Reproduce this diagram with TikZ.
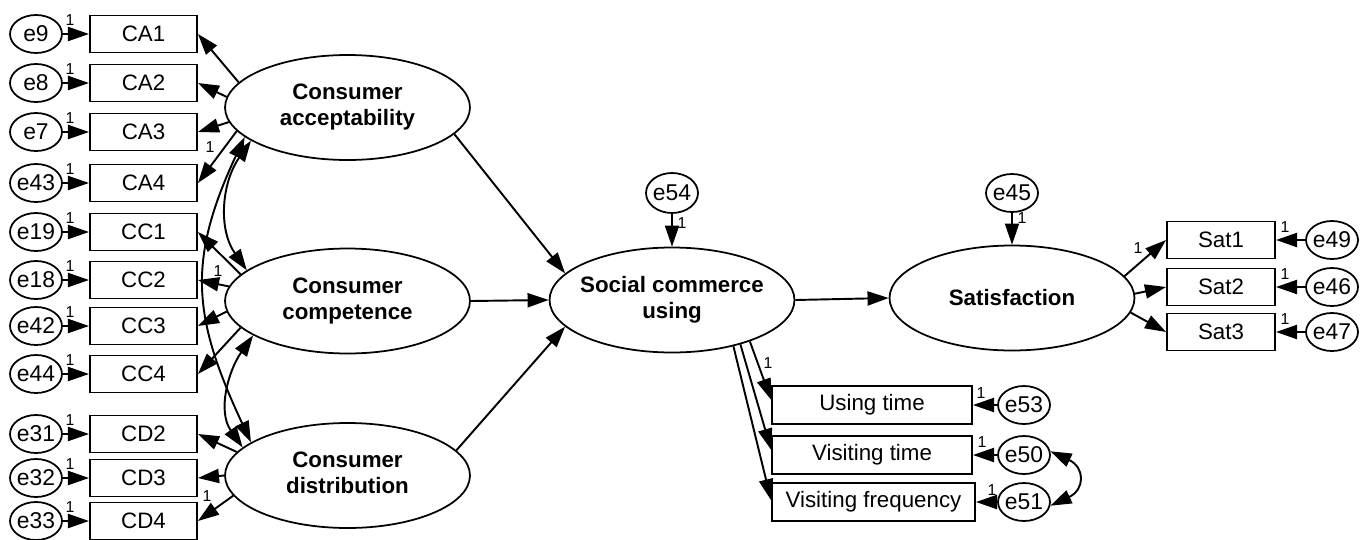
\documentclass[tikz,border=0pt]{standalone}
\usepackage{fontspec}
\setmainfont{Liberation Sans}
\usetikzlibrary{shapes.geometric, arrows.meta}
\newcommand\zb[1]{\makebox[0pt]{#1}}
\begin{document}
\begin{tikzpicture}[x=0.02cm, y=0.02cm,
  box/.style={draw, line width=1.1pt, rectangle, minimum width=2.14cm, minimum height=0.74cm, inner sep=0pt, font=\fontsize{12.7}{14}\selectfont},
  wbox/.style={box, minimum width=4cm, minimum height=0.76cm},
  err/.style={draw, line width=1pt, ellipse, minimum width=1.04cm, minimum height=0.76cm, inner sep=0pt, font=\fontsize{13}{14}\selectfont},
  lat/.style={draw, line width=1pt, ellipse, minimum width=4.9cm, minimum height=2.1cm, inner sep=0pt, font=\fontsize{12.7}{14.7}\selectfont\bfseries},
  onelab/.style={font=\fontsize{9}{10}\selectfont, inner sep=0pt},
  arr/.style={line width=1.1pt, -{Triangle[length=12pt,width=8pt]}},
  cov/.style={line width=1.1pt, {Triangle[length=12pt,width=8pt]}-{Triangle[length=12pt,width=8pt]}}
]
\useasboundingbox (0,0) rectangle (1365,539);

% latent variables
\node[lat] (ca) at (347.5,431.5) {\zb{\begin{tabular}{@{}c@{}}Consumer\\acceptability\end{tabular}}};
\node[lat] (cc) at (347.5,238) {\zb{\begin{tabular}{@{}c@{}}Consumer\\competence\end{tabular}}};
\node[lat] (cd) at (347.5,63.5) {\zb{\begin{tabular}{@{}c@{}}Consumer\\distribution\end{tabular}}};
\node[lat] (scu) at (672,239) {\zb{\begin{tabular}{@{}c@{}}Social commerce\\using\end{tabular}}};
\node[lat] (sat) at (1012,241) {\zb{Satisfaction}};

% left indicators
\foreach \b/\e/\y/\bt/\et in {ca1/e9/505/CA1/e9, ca2/e8/456/CA2/e8, ca3/e7/407/CA3/e7, ca4/e43/356/CA4/e43,
  cc1/e19/307/CC1/e19, cc2/e18/259/CC2/e18, cc3/e42/213/CC3/e42, cc4/e44/165/CC4/e44,
  cd2/e31/105/CD2/e31, cd3/e32/61/CD3/e32, cd4/e33/18/CD4/e33}{
  \node[box] (\b) at (143.5,\y) {\bt};
  \node[err] (\e) at (36,\y) {\zb{\et}};
  \node[onelab] (l\e) at (70,\y+14) {1};
  \draw[arr] (\e.east) -- (\b.west);
}

% loadings
\draw[arr] (ca.167) -- (ca1.east);
\draw[arr] (ca.175) -- (ca2.east);
\draw[arr] (ca.187) -- (ca3.east);
\draw[arr] (ca.192) -- (ca4.east);
\draw[arr] (cc.166) -- (cc1.east);
\draw[arr] (cc.173) -- (cc2.east);
\draw[arr] (cc.185) -- (cc3.east);
\draw[arr] (cc.194) -- (cc4.east);
\draw[arr] (cd.168) -- (cd2.east);
\draw[arr] (cd.180) -- (cd3.east);
\draw[arr] (cd.190) -- (cd4.east);
\node[onelab] (lca4) at (210,392) {1};
\node[onelab] (lcc2) at (218,268) {1};
\node[onelab] (lcd4) at (207,43) {1};

% covariances
\draw[cov] (ca.199) to[out=235, in=125] (cc.163);
\draw[cov] (cc.200) to[out=235, in=125] (cd.165);
\draw[cov] (ca.196) to[out=245, in=115, looseness=1.15] (cd.161);

% structural paths
\draw[arr] (ca.-14) -- (scu.166);
\draw[arr] (cc.east) -- (scu.west);
\draw[arr] (cd.13) -- (scu.194);
\draw[arr] (scu.east) -- (sat.west);

% disturbances
\node[err, minimum height=0.8cm] (e54) at (672,346) {\zb{e54}};
\node[err] (e45) at (1012,346) {\zb{e45}};
\draw[arr] (e54.south) -- (scu.north);
\draw[arr] (e45.south) -- (sat.north);
\node[onelab] (le54) at (682,316) {1};
\node[onelab] (le45) at (1022,321) {1};

% satisfaction indicators
\foreach \b/\e/\y/\bt/\et in {sat1/e49/299/Sat1/e49, sat2/e46/252/Sat2/e46, sat3/e47/207/Sat3/e47}{
  \node[box, minimum width=2.16cm] (\b) at (1221,\y) {\bt};
  \node[err] (\e) at (1332,\y) {\zb{\et}};
  \node[onelab] (l\e) at (1285,\y+13) {1};
  \draw[arr] (\e.west) -- (\b.east);
}
\draw[arr] (sat.11) -- (sat1.west);
\draw[arr] (sat.2) -- (sat2.west);
\draw[arr] (sat.-7) -- (sat3.west);
\node[onelab] (lsat1) at (1138,291) {1};

% social commerce indicators
\node[wbox] (ut) at (872,134) {Using time};
\node[wbox] (vt) at (872,84) {Visiting time};
\node[wbox, minimum width=4.06cm] (vf) at (873.5,37) {Visiting frequency};
\node[err] (e53) at (1024,134) {\zb{e53}};
\node[err] (e50) at (1024,84) {\zb{e50}};
\node[err] (e51) at (1024,37) {\zb{e51}};
\draw[arr] (e53.west) -- (ut.east);
\draw[arr] (e50.west) -- (vt.east);
\draw[arr] (e51.west) -- (vf.east);
\node[onelab] (le53) at (981,146) {1};
\node[onelab] (le50) at (982,97) {1};
\node[onelab] (le51) at (992,49) {1};
\draw[arr] (scu.-28) -- (ut.177);
\draw[arr] (scu.-33) -- (vt.177);
\draw[arr] (scu.-37) -- (vf.179);
\node[onelab] (lut) at (768,176) {1};
\draw[cov] (e50.8) to[out=-25, in=25, looseness=1.8] (e51.-8);
\end{tikzpicture}
\end{document}
